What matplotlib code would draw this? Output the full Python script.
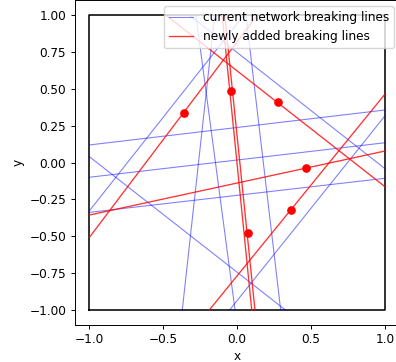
import matplotlib
matplotlib.use("Agg")
import matplotlib.pyplot as plt

# current network breaking lines: segments (x0, y0, x1, y1) clipped to the unit box
blue_x0 = [-1.0, -1.0, -1.0, -1.0, -1.0, -0.324, -0.052, -0.372, -0.015, 0.294]
blue_y0 = [0.119, -0.100, -0.338, 0.039, -0.327, 1.0, -1.0, -1.0, -1.0, -1.0]
blue_x1 = [1.0, 1.0, 1.0, 0.326, 0.045, 1.0, 1.0, -0.152, -0.280, 0.059]
blue_y1 = [0.356, 0.134, -0.107, -1.0, 1.0, -0.042, 0.317, 1.0, 1.0, 1.0]

# newly added breaking lines
red_x0 = [-1.0, 0.098, 0.120, -0.484, -1.0, -0.189]
red_y0 = [-0.507, -1.0, -1.0, 1.0, -0.356, -1.0]
red_x1 = [0.136, -0.102, -0.085, 1.0, 1.0, 1.0]
red_y1 = [1.0, 1.0, 1.0, -0.164, 0.078, 0.464]

# points on the new lines
pt_x = [-0.360, -0.045, 0.274, 0.463, 0.362, 0.071]
pt_y = [0.333, 0.487, 0.408, -0.039, -0.322, -0.476]

box_x = [-1, 1, 1, -1, -1]
box_y = [-1, -1, 1, 1, -1]

s = 0.87
plt.rcParams.update({
    "font.size": 10 * s,
    "axes.linewidth": 0.8 * s,
    "xtick.major.size": 3.5 * s,
    "ytick.major.size": 3.5 * s,
    "xtick.major.width": 0.8 * s,
    "ytick.major.width": 0.8 * s,
    "xtick.major.pad": 3.5 * s,
    "ytick.major.pad": 3.5 * s,
    "axes.labelpad": 4.0 * s,
})

fig = plt.figure(figsize=(3.96, 3.62), dpi=100)
ax = fig.add_axes([0.1886, 0.1029, 0.821, 0.8964])

ax.plot(box_x, box_y, color="k", lw=1.3 * s)

for i in range(len(blue_x0)):
    ax.plot([blue_x0[i], blue_x1[i]], [blue_y0[i], blue_y1[i]], color="blue",
            alpha=0.5, lw=0.9 * s, label="current network breaking lines" if i == 0 else None)
for i in range(len(red_x0)):
    ax.plot([red_x0[i], red_x1[i]], [red_y0[i], red_y1[i]], color="red",
            alpha=0.8, lw=1.1 * s, label="newly added breaking lines" if i == 0 else None)

ax.scatter(pt_x, pt_y, color="red", s=36 * s * s, zorder=3)

ax.set_xlim(-1.1, 1.1)
ax.set_ylim(-1.1, 1.1)
ax.set_xticks([-1.0, -0.5, 0.0, 0.5, 1.0])
ax.set_yticks([-1.0, -0.75, -0.5, -0.25, 0.0, 0.25, 0.5, 0.75, 1.0])
ax.set_xlabel("x", labelpad=2.5)
ax.set_ylabel("y")
ax.legend(loc="upper right", borderaxespad=0.5)

fig.savefig("out.png", dpi=100)
